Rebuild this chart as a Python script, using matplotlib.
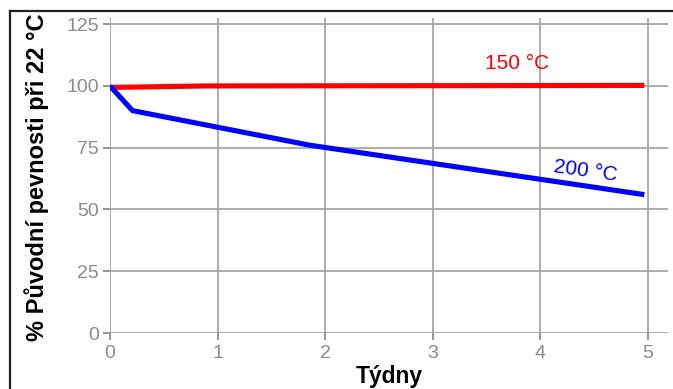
import matplotlib
matplotlib.use('Agg')
from matplotlib import pyplot as plt
from matplotlib.lines import Line2D

plt.rcParams['font.family'] = ['Liberation Sans', 'DejaVu Sans']

# 150 °C
weeks_150 = [0, 0.9, 4.97]
strength_150 = [99.4, 100.0, 100.2]

# 200 °C
weeks_200 = [0, 0.21, 1.86, 4.97]
strength_200 = [100, 90, 76, 56]

xticks = [0, 1, 2, 3, 4, 5]
yticks = [0, 25, 50, 75, 100, 125]

W, H = 673, 389
fig = plt.figure(figsize=(W / 100, H / 100), dpi=100)
ax = fig.add_axes([110 / W, 1 - 333 / H, 558 / W, 315 / H])

ax.plot(weeks_150, strength_150, color='#ff0000', lw=3.7, solid_capstyle='butt', zorder=3)
ax.plot(weeks_200, strength_200, color='#0000ff', lw=3.7, solid_capstyle='butt', zorder=3)

ax.text(3.79, 109, '150 °C', color='#ff0000', fontsize=15, ha='center', va='center')
ax.text(4.42, 65.5, '200 °C', color='#0000ff', fontsize=15, ha='center', va='center', rotation=-8)

ax.set_xlim(0, 5.19)
ax.set_ylim(0, 127.5)
ax.set_xticks(xticks)
ax.set_yticks(yticks)
ax.grid(True, color='#a6a6a6', lw=1.3)
ax.set_axisbelow(True)
for s in ax.spines.values():
    s.set_visible(False)
ax.tick_params(colors='#8c8c8c', labelsize=14, length=5, width=1.3)
ax.tick_params(axis='x', pad=4)
ax.tick_params(axis='y', pad=3)

fig.text(37 / W, 1 - 177 / H, '% Původní pevnosti při 22 °C', rotation=90,
         ha='center', va='center', fontsize=17, fontweight='bold')
fig.text(389 / W, 1 - 377 / H, 'Týdny', ha='center', va='center', fontsize=16.5, fontweight='bold')

# rámeček kolem obrázku (jen levá a horní hrana jsou vidět)
x0, y0 = 9.5 / W, 1 - 10.5 / H
fig.lines.append(Line2D([x0, x0], [0, y0], transform=fig.transFigure, color='#222222', lw=1.6))
fig.lines.append(Line2D([x0, 1], [y0, y0], transform=fig.transFigure, color='#222222', lw=1.6))

fig.savefig('out.png', dpi=100)
